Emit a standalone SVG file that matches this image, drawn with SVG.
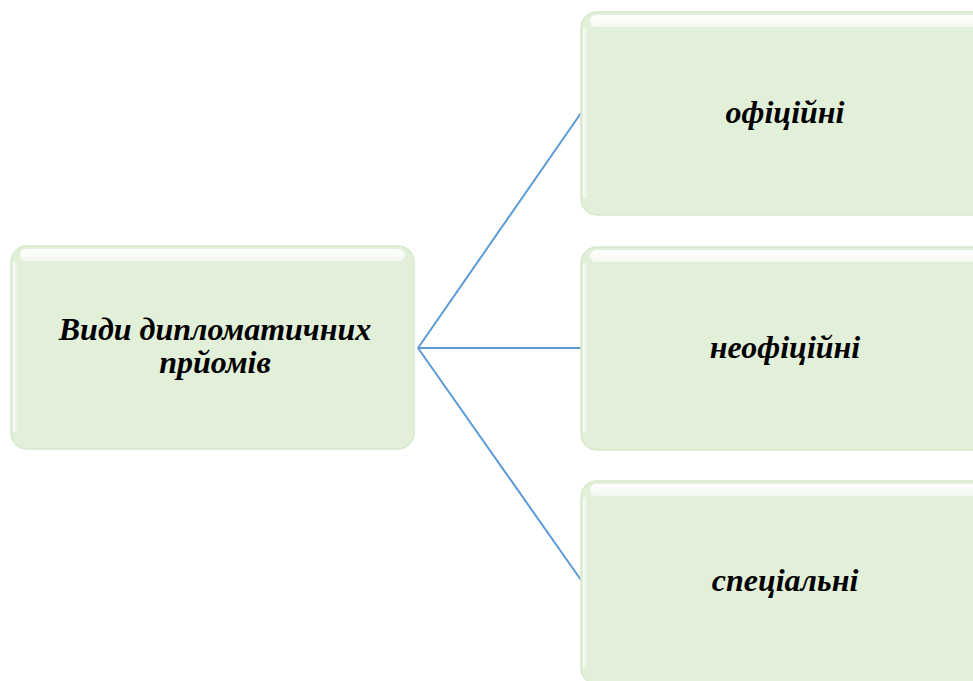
<svg xmlns="http://www.w3.org/2000/svg" width="973" height="681" viewBox="0 0 973 681">
<defs>
<linearGradient id="hl" x1="0" y1="0" x2="0" y2="1">
<stop offset="0" stop-color="#ffffff" stop-opacity="1"/>
<stop offset="1" stop-color="#ffffff" stop-opacity="0.6"/>
</linearGradient>
<linearGradient id="side" x1="0" y1="0" x2="1" y2="0">
<stop offset="0" stop-color="#ffffff" stop-opacity="0.9"/>
<stop offset="1" stop-color="#ffffff" stop-opacity="0"/>
</linearGradient>
</defs>
<style>
.box{fill:#e2efd9;stroke:#d6e9cb;stroke-width:1.5}
.hl{fill:url(#hl)}
.sd{fill:url(#side)}
.lbl{font-family:"Liberation Serif","Times New Roman",serif;font-weight:bold;font-style:italic;font-size:32px;fill:#000;text-anchor:middle}
.conn{stroke:#5b9bd5;stroke-width:2;fill:none}
</style>
<g id="connectors">
<line class="conn" x1="418" y1="348" x2="581" y2="113"/>
<line class="conn" x1="418" y1="348" x2="581" y2="348"/>
<line class="conn" x1="418" y1="348" x2="581" y2="580"/>
</g>
<g id="node-root">
<rect class="box" x="11" y="246" width="403" height="203" rx="16"/>
<rect class="hl" x="20" y="249" width="385" height="12" rx="6"/>
<rect class="sd" x="13" y="262" width="5" height="170" rx="2"/>
<text class="lbl" x="215" y="340">Види дипломатичних</text>
<text class="lbl" x="215" y="373">прйомів</text>
</g>
<g id="node-1">
<rect class="box" x="581" y="12" width="410" height="203" rx="16"/>
<rect class="hl" x="590" y="15" width="395" height="12" rx="6"/>
<rect class="sd" x="583" y="28" width="5" height="170" rx="2"/>
<text class="lbl" x="785" y="123">офіційні</text>
</g>
<g id="node-2">
<rect class="box" x="581" y="247" width="410" height="203" rx="16"/>
<rect class="hl" x="590" y="250" width="395" height="12" rx="6"/>
<rect class="sd" x="583" y="263" width="5" height="170" rx="2"/>
<text class="lbl" x="785" y="358">неофіційні</text>
</g>
<g id="node-3">
<rect class="box" x="581" y="481" width="410" height="203" rx="16"/>
<rect class="hl" x="590" y="484" width="395" height="12" rx="6"/>
<rect class="sd" x="583" y="497" width="5" height="170" rx="2"/>
<text class="lbl" x="785" y="591">спеціальні</text>
</g>
</svg>
